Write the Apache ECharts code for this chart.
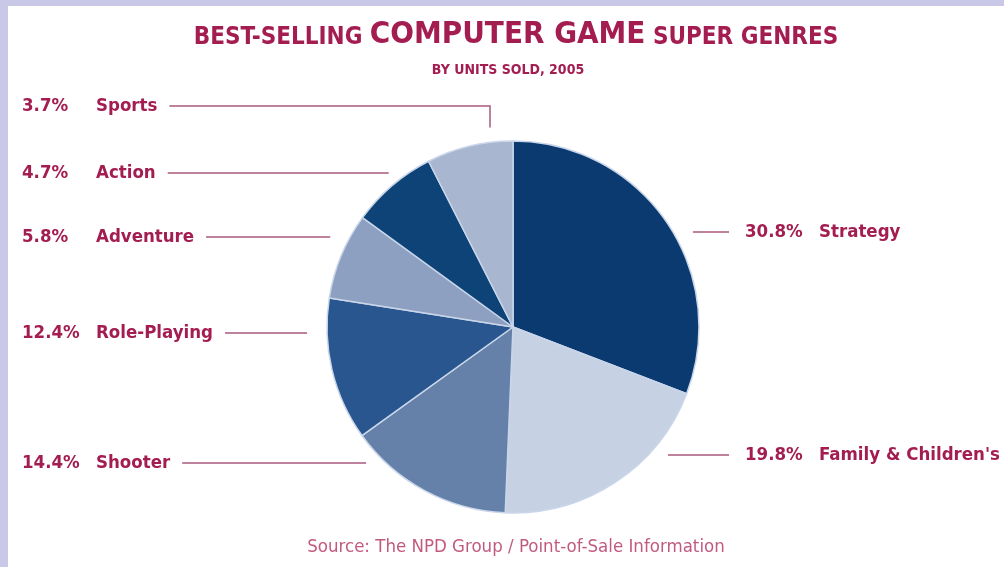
<!DOCTYPE html>
<html><head><meta charset="utf-8">
<script src="https://cdn.jsdelivr.net/npm/echarts@6/dist/echarts.min.js"></script>
<style>html,body{margin:0;padding:0;background:#fff}#c{width:1004px;height:567px}</style>
</head><body><div id="c"></div>
<script>
// ---- data ----
const categories = ['Strategy', "Family & Children's", 'Shooter', 'Role-Playing', 'Adventure', 'Action', 'Sports'];
const shares = [30.8, 19.8, 14.4, 12.4, 5.8, 4.7, 3.7];

// ---- styles / layout (not data) ----
const sliceColors = ['#0b3a70', '#c7d1e4', '#6580a9', '#2a5690', '#8ea0c2', '#0e4378', '#a8b6d0'];
const labelSide = ['right', 'right', 'left', 'left', 'left', 'left', 'left'];
const labelY = [232, 455, 463, 333, 237, 173, 106];
const FONT = '"Liberation Sans Narrow", "DejaVu Sans Condensed", sans-serif';
const RED = '#a31d50';
const CX = 513, CY = 327, R = 186, GAP = 20;

function labelLayout(p) {
  const i = p.dataIndex;
  const y = labelY[i];
  const w = p.labelRect.width;
  const dy = y - CY;
  const half = Math.sqrt(Math.max(R * R - dy * dy, 0));
  if (labelSide[i] === 'right') {
    const x = 745;
    return { x: x, y: y, align: 'left', verticalAlign: 'middle',
      labelLinePoints: [[CX + half + GAP, y], [x - 16, y]] };
  }
  const x = 22;
  const start = x + w + 12;
  if (i === categories.length - 1) {
    const ex = CX - 23;
    const ey = CY - Math.sqrt(R * R - 23 * 23) - 15;
    return { x: x, y: y, align: 'left', verticalAlign: 'middle',
      labelLinePoints: [[start, y], [ex, y], [ex, ey]] };
  }
  return { x: x, y: y, align: 'left', verticalAlign: 'middle',
    labelLinePoints: [[start, y], [CX - half - GAP, y]] };
}

const chart = echarts.init(document.getElementById('c'), null, { renderer: 'canvas' });
chart.setOption({
  backgroundColor: '#ffffff',
  animation: false,
  graphic: [
    { type: 'rect', left: 0, top: 0, shape: { width: 1004, height: 6 }, style: { fill: '#c9c8e7' } },
    { type: 'rect', left: 0, top: 0, shape: { width: 8, height: 567 }, style: { fill: '#c9c8e7' } }
  ],
  title: [
    {
      text: '{s|BEST-SELLING }{b|COMPUTER GAME}{s| SUPER GENRES}',
      left: 516, top: 14, textAlign: 'center', padding: 0,
      textStyle: {
        rich: {
          s: { fontFamily: FONT, fontWeight: 'bold', fontSize: 24, color: RED, verticalAlign: 'bottom', lineHeight: 36 },
          b: { fontFamily: FONT, fontWeight: 'bold', fontSize: 31, color: RED, verticalAlign: 'bottom', lineHeight: 36 }
        }
      }
    },
    {
      text: 'BY UNITS SOLD, 2005',
      left: 508, top: 62, textAlign: 'center', padding: 0,
      textStyle: { fontFamily: FONT, fontWeight: 'bold', fontSize: 14, lineHeight: 16, color: RED }
    },
    {
      text: 'Source: The NPD Group / Point-of-Sale Information',
      left: 516, top: 537, textAlign: 'center', padding: 0,
      textStyle: { fontFamily: FONT, fontWeight: 'normal', fontSize: 18.5, lineHeight: 20, color: '#c25a80' }
    }
  ],
  series: [{
    type: 'pie',
    center: [CX, CY],
    radius: R,
    startAngle: 90,
    clockwise: true,
    minAngle: 27,
    avoidLabelOverlap: false,
    itemStyle: { borderColor: '#c9d6ea', borderWidth: 1.5 },
    emphasis: { disabled: true },
    label: {
      show: true,
      position: 'outside',
      formatter: function (p) { return '{p|' + p.value + '%}{n|' + p.name + '}'; },
      rich: {
        p: { fontFamily: FONT, fontWeight: 'bold', fontSize: 18.5, color: RED, width: 74, lineHeight: 22 },
        n: { fontFamily: FONT, fontWeight: 'bold', fontSize: 18.5, color: RED, lineHeight: 22 }
      }
    },
    labelLine: { show: true, length: 15, length2: 15, smooth: false, lineStyle: { color: '#a8597d', width: 1.5 } },
    labelLayout: labelLayout,
    data: categories.map(function (c, i) {
      return { name: c, value: shares[i], itemStyle: { color: sliceColors[i] } };
    })
  }]
});
</script>
</body></html>
